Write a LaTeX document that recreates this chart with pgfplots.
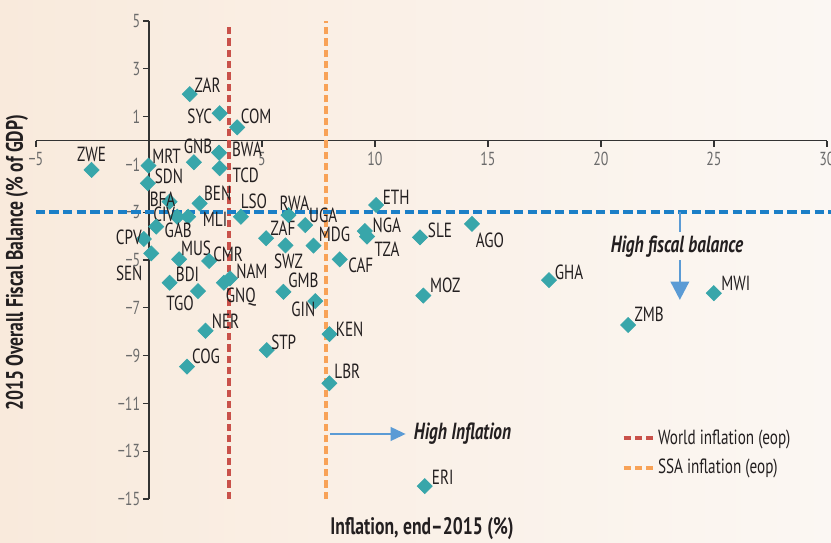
\documentclass[border=0pt]{standalone}
\usepackage{fontspec}
\setmainfont[FakeStretch=0.74]{PT Sans}
\usepackage{pgfplots}
\usepackage{pgfplotstable}
\pgfplotsset{compat=1.18}
\usetikzlibrary{arrows.meta}

\definecolor{bgl}{HTML}{F9EADC}
\definecolor{bgr}{HTML}{FBF7F3}
\definecolor{teal}{HTML}{38A6AA}
\definecolor{worldred}{HTML}{C9514A}
\definecolor{ssaorange}{HTML}{F8A257}
\definecolor{fiscalblue}{HTML}{1B7FC7}
\definecolor{arrowblue}{HTML}{5B9BD5}
\definecolor{txt}{HTML}{231F20}
\definecolor{tickc}{HTML}{6B6B6B}
\definecolor{axisc}{HTML}{333333}

% country, inflation, fiscal balance, label offsets (pt)
\pgfplotstableread{
name x y dx dy
ZAR 1.80 1.94 10.8 5.4
SYC 3.13 1.14 -12 -1.8
COM 3.90 0.55 11.4 6.6
GNB 1.99 -0.91 2.4 9.6
BWA 3.10 -0.51 16.8 1.8
TCD 3.13 -1.16 15.6 -4.2
MRT -0.02 -1.05 10.8 5.4
SDN -0.05 -1.79 12.6 4.2
ZWE -2.54 -1.23 0 9
BFA 0.91 -2.56 -4.2 1.2
BEN 2.24 -2.63 10.8 6
LSO 4.07 -3.19 7.8 9
CIV 1.25 -3.19 -7.8 1.2
MLI 1.73 -3.19 16.2 -1.8
GAB 0.32 -3.60 13.2 -2.4
CPV -0.23 -4.12 -9 1.2
SEN 0.10 -4.72 -13.2 -12
MUS 1.33 -4.97 10.2 6.6
CMR 2.66 -5.04 11.4 4.2
BDI 0.91 -5.95 10.8 4.8
TGO 2.17 -6.30 -10.8 -7.2
NAM 3.58 -5.77 13.2 4.2
GNQ 3.31 -5.95 10.2 -8.4
NER 2.50 -7.96 12 5.4
COG 1.68 -9.46 11.4 6
STP 5.21 -8.77 10.2 4.8
ZAF 5.18 -4.09 10.2 6
SWZ 6.04 -4.39 1.8 -9.6
RWA 6.17 -3.12 3.6 7.2
UGA 6.91 -3.54 10.8 6
MDG 7.28 -4.40 12.6 6.6
GMB 5.95 -6.33 12 6.6
GIN 7.36 -6.72 -7.2 -4.8
KEN 7.99 -8.10 12 3
CAF 8.44 -4.97 12.6 -3.6
ETH 10.05 -2.70 12 4.8
NGA 9.55 -3.79 13.2 3.6
TZA 9.65 -4.02 12 -7.8
SLE 11.99 -4.05 12 4.2
AGO 14.29 -3.49 10.8 -9.6
MOZ 12.14 -6.49 13.2 6
LBR 7.98 -10.16 10.8 7.2
GHA 17.70 -5.84 12 4.8
MWI 24.99 -6.39 13.2 6
ZMB 21.20 -7.72 12.6 6.6
ERI 12.20 -14.46 10.8 5.4
}\countries

\begin{document}
\begin{tikzpicture}
\fill[left color=bgl, right color=bgr] (-21.6pt,-25.8pt) rectangle (477pt,299.4pt);
\begin{axis}[
    scale only axis,
    width=474.6pt, height=286.8pt,
    xmin=-5, xmax=30, ymin=-15, ymax=5,
    axis lines=middle,
    axis line style={-, draw=axisc, line width=0.8pt},
    clip=false,
    xtick={-5,5,10,15,20,25,30},
    xticklabels={−5,5,10,15,20,25,30},
    ytick={-15,-13,-11,-9,-7,-5,-3,-1,1,3,5},
    yticklabels={−15,−13,−11,−9,−7,−5,−3,−1,1,3,5},
    tick align=outside,
    major tick length=3.6pt,
    tick style={draw=axisc, line width=0.8pt},
    tick label style={font=\fontsize{11.3}{12}\selectfont, text=tickc},
    yticklabel style={inner sep=1.5pt},
    xlabel={Inflation, end–2015 (\%)},
    ylabel={2015 Overall Fiscal Balance (\% of GDP)},
    label style={font=\bfseries\fontsize{14.3}{15}\selectfont, text=txt},
    xlabel style={at={(axis description cs:0.488,-0.062)}, anchor=center},
    ylabel style={at={(axis description cs:-0.024,0.494)}, anchor=center, rotate=90},
    legend style={at={(axis cs:20.9,-11.95)}, anchor=north west, draw=none, fill=none,
        font=\fontsize{12.3}{13}\selectfont, text=txt, row sep=3.4pt, inner sep=0pt},
    legend cell align=left,
    legend image code/.code={\draw[#1] (0pt,0pt) -- (17.4pt,0pt);},
]
\addplot[worldred, line width=2.4pt, dash pattern=on 4.4pt off 2.4pt]
    coordinates {(3.55,-15) (3.55,4.9)};
\addlegendentry{World inflation (eop)}
\addplot[ssaorange, line width=2.4pt, dash pattern=on 4.4pt off 2.4pt]
    coordinates {(7.84,-15) (7.84,5)};
\addlegendentry{SSA inflation (eop)}
\addplot[fiscalblue, line width=2.4pt, dash pattern=on 5.6pt off 2.6pt, forget plot]
    coordinates {(-5.02,-2.99) (30.25,-2.99)};

\addplot[only marks, mark=square*, mark size=3.2pt,
    mark options={rotate=45, fill=teal, draw=teal},
    point meta=explicit symbolic,
    nodes near coords,
    visualization depends on={\thisrow{dx}\as\dx},
    visualization depends on={\thisrow{dy}\as\dy},
    every node near coord/.append style={anchor=center, xshift=\dx pt, yshift=\dy pt,
        font=\fontsize{12.3}{12}\selectfont, text=txt, inner sep=0pt},
    forget plot]
    table[x=x, y=y, meta=name] {\countries};

% annotations
\draw[arrowblue, line width=1.6pt, -{Triangle[length=9pt, width=8pt]}]
    (axis cs:8.02,-12.28) -- (axis cs:11.36,-12.28);
\node[anchor=west, font=\bfseries\itshape\fontsize{14}{14}\selectfont, text=txt, inner sep=0pt]
    at (axis cs:11.71,-12.28) {High Inflation};
\draw[arrowblue, line width=1.6pt] (axis cs:23.49,-2.99) -- (axis cs:23.49,-3.83);
\draw[arrowblue, line width=1.6pt, -{Triangle[length=11pt, width=11pt]}]
    (axis cs:23.49,-5.0) -- (axis cs:23.49,-6.67);
\node[font=\bfseries\itshape\fontsize{14}{14}\selectfont, text=txt, inner sep=0pt]
    at (axis cs:23.36,-4.46) {High fiscal balance};
\end{axis}
\pgfresetboundingbox
\useasboundingbox (-21.6pt,-25.8pt) rectangle (477pt,299.4pt);
\end{tikzpicture}
\end{document}
